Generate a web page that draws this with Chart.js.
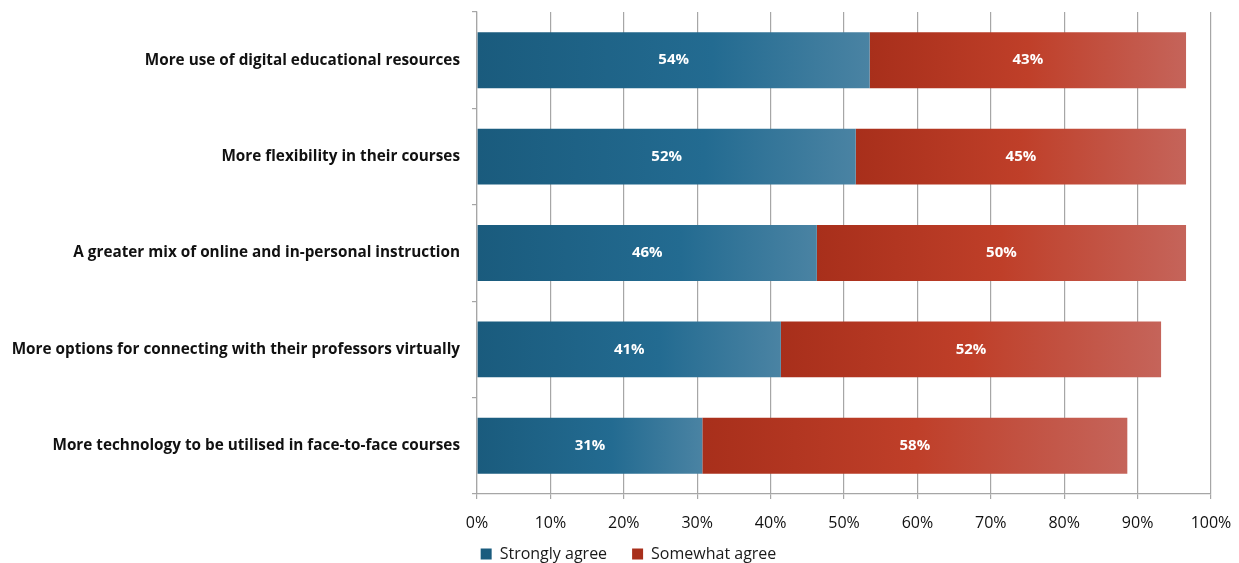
<!DOCTYPE html>
<html>
<head>
<meta charset="utf-8">
<script src="https://cdn.jsdelivr.net/npm/chart.js@4"></script>
<style>
  html, body { margin: 0; padding: 0; background: #fff; }
  #wrap { width: 1239px; height: 563px; }
</style>
</head>
<body>
<div id="wrap"><canvas id="chart"></canvas></div>
<script>
// データ
const categories = [
    'More use of digital educational resources',
    'More flexibility in their courses',
    'A greater mix of online and in-personal instruction',
    'More options for connecting with their professors virtually',
    'More technology to be utilised in face-to-face courses'
];
const stronglyAgree = [53.5, 51.6, 46.3, 41.4, 30.7];
const somewhatAgree = [43.1, 45.0, 50.3, 51.8, 57.9];
const xTicks = [0, 10, 20, 30, 40, 50, 60, 70, 80, 90, 100];

const FONT = '"Open Sans", Lato, sans-serif';

// 棒ごとのグラデーション
function barGradient(ctx, stops, solid) {
    const chart = ctx.chart;
    if (ctx.type !== 'data' || !chart.chartArea) return solid;
    const i = ctx.dataIndex;
    const x = chart.scales.x;
    const start = ctx.datasetIndex === 0 ? 0 : stronglyAgree[i];
    const end = start + (ctx.datasetIndex === 0 ? stronglyAgree[i] : somewhatAgree[i]);
    const x0 = x.getPixelForValue(start);
    const x1 = x.getPixelForValue(end);
    if (!isFinite(x0) || !isFinite(x1) || x1 <= x0) return solid;
    const g = chart.ctx.createLinearGradient(x0, 0, x1, 0);
    stops.forEach(s => g.addColorStop(s[0], s[1]));
    return g;
}

// バー中央に値を描く
const valueLabels = {
    id: 'valueLabels',
    afterDatasetsDraw(chart) {
        const c = chart.ctx;
        c.save();
        c.font = 'bold 15px ' + FONT;
        c.fillStyle = '#ffffff';
        c.textAlign = 'center';
        c.textBaseline = 'middle';
        chart.data.datasets.forEach((ds, di) => {
            chart.getDatasetMeta(di).data.forEach((bar, i) => {
                const cx = (bar.x + bar.base) / 2;
                c.fillText(Math.round(ds.data[i]) + '%', cx, bar.y);
            });
        });
        c.restore();
    }
};

// 凡例の高さと位置を微調整
const legendTweak = {
    id: 'legendTweak',
    beforeLayout(chart) {
        const lg = chart.legend;
        if (lg && !lg._tweaked) {
            const fit = lg.fit;
            lg.fit = function () { fit.call(this); this.height = 29; };
            lg._tweaked = true;
        }
    },
    afterLayout(chart) {
        const lg = chart.legend;
        if (lg) {
            lg.left += 23; lg.right += 23;
            lg.top = chart.height - 42; lg.bottom = chart.height;
        }
    }
};

new Chart(document.getElementById('chart'), {
    type: 'bar',
    data: {
        labels: categories,
        datasets: [
            {
                label: 'Strongly agree',
                data: stronglyAgree,
                backgroundColor: ctx => barGradient(ctx,
                    [[0, '#1a5b7d'], [0.6, '#236b91'], [1, '#4a83a3']], '#2a6e93'),
                barPercentage: 0.58,
                categoryPercentage: 1
            },
            {
                label: 'Somewhat agree',
                data: somewhatAgree,
                backgroundColor: ctx => barGradient(ctx,
                    [[0, '#a82f1b'], [0.5, '#bf3f29'], [1, '#c5645a']], '#bd3e2a'),
                barPercentage: 0.58,
                categoryPercentage: 1
            }
        ]
    },
    options: {
        indexAxis: 'y',
        responsive: true,
        maintainAspectRatio: false,
        animation: false,
        layout: { padding: { top: 12, right: 28, left: 0, bottom: 0 } },
        scales: {
            x: {
                stacked: true,
                min: 0,
                max: 100,
                afterBuildTicks: scale => { scale.ticks = xTicks.map(v => ({ value: v })); },
                afterFit: scale => {
                    scale.height = 40;
                    scale.paddingLeft = 0;
                    scale.paddingRight = 0;
                },
                ticks: {
                    callback: v => v + '%',
                    color: '#111',
                    font: { family: FONT, size: 16 },
                    padding: 15,
                    maxRotation: 0
                },
                grid: { color: '#a6a6a6', tickLength: 5, lineWidth: 1.2 },
                border: { color: '#a6a6a6', width: 1.2 }
            },
            y: {
                stacked: true,
                afterFit: scale => {
                    scale.width = 477;
                    scale.paddingTop = 0;
                    scale.paddingBottom = 0;
                },
                ticks: {
                    color: '#111',
                    font: { family: FONT, size: 15.3, weight: 'bold' },
                    padding: 12
                },
                grid: { drawOnChartArea: false, offset: true, tickLength: 5, color: '#a6a6a6', lineWidth: 1.2 },
                border: { color: '#a6a6a6', width: 1.2 }
            }
        },
        plugins: {
            legend: {
                position: 'bottom',
                labels: {
                    boxWidth: 11,
                    boxHeight: 11,
                    padding: 25,
                    color: '#1a1a1a',
                    font: { family: FONT, size: 16 }
                }
            },
            tooltip: { enabled: false }
        }
    },
    plugins: [valueLabels, legendTweak]
});
</script>
</body>
</html>
